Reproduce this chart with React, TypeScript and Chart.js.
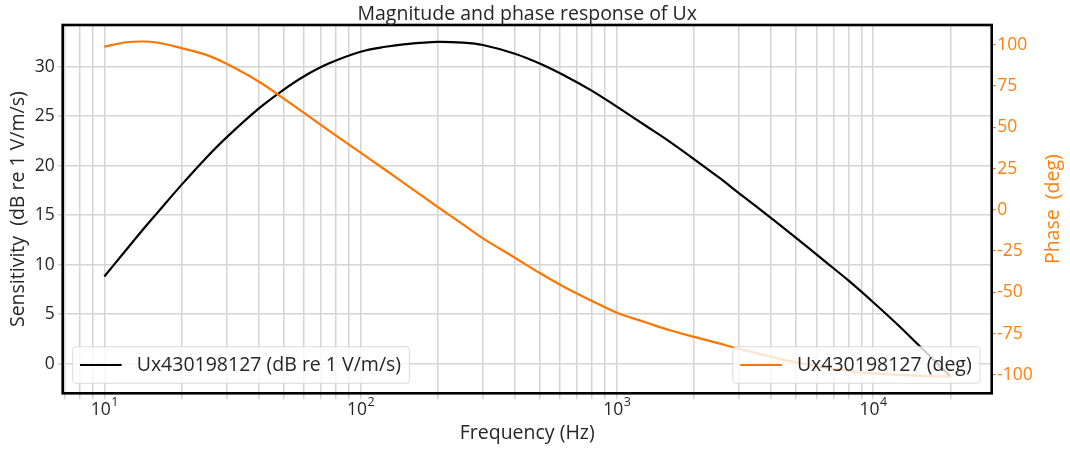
import React, { useEffect, useRef } from 'react';
import { Chart, registerables } from 'chart.js';

Chart.register(...registerables);

// ---- data ----
const FREQ_HZ = [10, 12, 14, 16, 20, 25, 30, 40, 50, 60, 75, 100, 125, 150, 200, 250, 300, 400, 500, 650, 800, 1000, 1300, 1600, 2000, 2500, 3000, 4000, 5000, 6500, 8000, 10000, 12500, 15000, 17500, 20000];
const MAG_DB = [8.8, 11.3, 13.4, 15.15, 18.05, 20.8, 22.85, 25.75, 27.65, 29.0, 30.3, 31.5, 32.0, 32.27, 32.5, 32.42, 32.18, 31.3, 30.3, 28.85, 27.55, 25.95, 24.0, 22.45, 20.65, 18.8, 17.2, 14.7, 12.7, 10.3, 8.4, 6.2, 3.9, 1.9, 0.2, -1.3];
const PHASE_DEG = [98.8, 101.3, 101.9, 101.3, 97.9, 93.8, 88.4, 77.7, 67.5, 58.8, 48.1, 34.6, 24.1, 15.4, 1.7, -8.7, -17.3, -29.0, -38.3, -48.3, -55.2, -62.3, -68.2, -72.8, -76.9, -80.9, -84.2, -89.0, -92.4, -95.6, -97.5, -99.0, -99.9, -100.5, -100.8, -101.0];

const X_GRID_VALUES = [7, 8, 9, 10, 20, 30, 40, 50, 60, 70, 80, 90, 100, 200, 300, 400, 500, 600, 700, 800, 900, 1000, 2000, 3000, 4000, 5000, 6000, 7000, 8000, 9000, 10000, 20000];
const X_LABEL_VALUES = [10, 100, 1000, 10000];
const X_LABEL_BASE = '10';
const X_LABEL_EXPONENTS = ['1', '2', '3', '4'];
const LEFT_TICKS = [0, 5, 10, 15, 20, 25, 30];
const RIGHT_TICKS = [-100, -75, -50, -25, 0, 25, 50, 75, 100];

const TITLE = 'Magnitude and phase response of Ux';
const X_TITLE = 'Frequency (Hz)';
const LEFT_TITLE = 'Sensitivity  (dB re 1 V/m/s)';
const RIGHT_TITLE = 'Phase  (deg)';
const SERIES_LABELS = ['Ux430198127 (dB re 1 V/m/s)', 'Ux430198127 (deg)'];

// ---- style ----
const W = 1070;
const H = 450;
const FONT_FAMILY = '"Open Sans", "DejaVu Sans", sans-serif';
const FS_TICK = 17.5;
const FS_LABEL = 19.5;
const FS_LEGEND = 19.5;
const TEXT = '#262626';
const ORANGE = '#ff7f0e';
const ORANGE_LINE = '#ff7500';
const GRID = '#d4d4d4';
const AREA = { left: 62.7, right: 991.7, top: 25, bottom: 393.3 };

function roundRect(ctx: CanvasRenderingContext2D, x: number, y: number, w: number, h: number, r: number) {
  ctx.beginPath();
  ctx.moveTo(x + r, y);
  ctx.lineTo(x + w - r, y);
  ctx.arcTo(x + w, y, x + w, y + r, r);
  ctx.lineTo(x + w, y + h - r);
  ctx.arcTo(x + w, y + h, x + w - r, y + h, r);
  ctx.lineTo(x + r, y + h);
  ctx.arcTo(x, y + h, x, y + h - r, r);
  ctx.lineTo(x, y + r);
  ctx.arcTo(x, y, x + r, y, r);
  ctx.closePath();
}

function drawLegend(ctx: CanvasRenderingContext2D, anchorX: number, alignRight: boolean, color: string, label: string) {
  ctx.save();
  ctx.font = `${FS_LEGEND}px ${FONT_FAMILY}`;
  const tw = ctx.measureText(label).width;
  const w = 64 + tw + 8.3;
  const h = 36.6;
  const x = alignRight ? anchorX - w : anchorX;
  const y = 346.7;
  roundRect(ctx, x, y, w, h, 3);
  ctx.fillStyle = 'rgba(255,255,255,0.8)';
  ctx.fill();
  ctx.strokeStyle = 'rgba(210,210,210,0.8)';
  ctx.lineWidth = 1;
  ctx.stroke();
  const cy = y + h / 2;
  ctx.beginPath();
  ctx.moveTo(x + 7.3, cy);
  ctx.lineTo(x + 49, cy);
  ctx.strokeStyle = color;
  ctx.lineWidth = 2.2;
  ctx.stroke();
  ctx.fillStyle = TEXT;
  ctx.textBaseline = 'middle';
  ctx.textAlign = 'left';
  ctx.fillText(label, x + 64, cy + 0.5);
  ctx.restore();
}

const overlayPlugin = {
  id: 'overlay',
  afterDraw(chart: any) {
    const ctx: CanvasRenderingContext2D = chart.ctx;
    const a = chart.chartArea;
    const xs = chart.scales.x;

    // legends
    drawLegend(ctx, 72.7, false, '#000000', SERIES_LABELS[0]);
    drawLegend(ctx, 980, true, ORANGE_LINE, SERIES_LABELS[1]);

    // frame
    ctx.save();
    ctx.strokeStyle = '#000000';
    ctx.lineWidth = 2.6;
    ctx.strokeRect(a.left, a.top, a.right - a.left, a.bottom - a.top);
    ctx.restore();

    // title
    ctx.save();
    ctx.fillStyle = TEXT;
    ctx.font = `${FS_LABEL}px ${FONT_FAMILY}`;
    ctx.textAlign = 'center';
    ctx.textBaseline = 'alphabetic';
    ctx.fillText(TITLE, (a.left + a.right) / 2, 20);
    ctx.restore();

    // x tick labels with superscript exponents
    ctx.save();
    ctx.fillStyle = TEXT;
    ctx.textBaseline = 'alphabetic';
    ctx.textAlign = 'left';
    X_LABEL_VALUES.forEach((v, i) => {
      const px = xs.getPixelForValue(v);
      ctx.font = `${FS_TICK}px ${FONT_FAMILY}`;
      const bw = ctx.measureText(X_LABEL_BASE).width;
      ctx.font = `${FS_TICK - 5}px ${FONT_FAMILY}`;
      const ew = ctx.measureText(X_LABEL_EXPONENTS[i]).width;
      const x0 = px - (bw + ew) / 2;
      ctx.font = `${FS_TICK}px ${FONT_FAMILY}`;
      ctx.fillText(X_LABEL_BASE, x0, 415);
      ctx.font = `${FS_TICK - 5}px ${FONT_FAMILY}`;
      ctx.fillText(X_LABEL_EXPONENTS[i], x0 + bw + 0.5, 406);
    });
    ctx.restore();

    // right axis title (rotated bottom-to-top like the left one)
    ctx.save();
    ctx.fillStyle = ORANGE;
    ctx.font = `${FS_LABEL}px ${FONT_FAMILY}`;
    ctx.textAlign = 'center';
    ctx.textBaseline = 'middle';
    ctx.translate(1053, (a.top + a.bottom) / 2);
    ctx.rotate(-Math.PI / 2);
    ctx.fillText(RIGHT_TITLE, 0, 0);
    ctx.restore();
  },
};

export default function App() {
  const ref = useRef<HTMLCanvasElement | null>(null);

  useEffect(() => {
    if (!ref.current) return;
    const tickFont = { family: FONT_FAMILY, size: FS_TICK };
    const labelFont = { family: FONT_FAMILY, size: FS_LABEL };
    const magData = FREQ_HZ.map((f, i) => ({ x: f, y: MAG_DB[i] }));
    const phaseData = FREQ_HZ.map((f, i) => ({ x: f, y: PHASE_DEG[i] }));

    const chart = new Chart(ref.current, {
      type: 'line',
      data: {
        datasets: [
          {
            label: SERIES_LABELS[0],
            data: magData,
            borderColor: '#000000',
            borderWidth: 2.2,
            pointRadius: 0,
            tension: 0.35,
            yAxisID: 'y',
            order: 1,
          },
          {
            label: SERIES_LABELS[1],
            data: phaseData,
            borderColor: ORANGE_LINE,
            borderWidth: 2.2,
            pointRadius: 0,
            tension: 0.35,
            yAxisID: 'y1',
            order: 0,
          },
        ],
      },
      options: {
        responsive: false,
        animation: false,
        events: [],
        layout: { padding: { top: AREA.top, left: 0, right: 0, bottom: 0 } },
        plugins: {
          legend: { display: false },
          title: { display: false },
          tooltip: { enabled: false },
        },
        scales: {
          x: {
            type: 'logarithmic',
            min: 6.88,
            max: 29000,
            afterBuildTicks: (s: any) => {
              s.ticks = X_GRID_VALUES.map((v) => ({ value: v }));
            },
            afterFit: (s: any) => {
              s.height = H - AREA.bottom;
            },
            grid: { color: GRID, lineWidth: 1.5, tickLength: 6, drawTicks: true },
            border: { display: false },
            ticks: { display: false },
            title: {
              display: true,
              text: X_TITLE,
              color: TEXT,
              font: labelFont,
              padding: { top: 0, bottom: 5.3 },
            },
          },
          y: {
            type: 'linear',
            position: 'left',
            min: -3.0,
            max: 34.2,
            afterBuildTicks: (s: any) => {
              s.ticks = LEFT_TICKS.map((v) => ({ value: v }));
            },
            afterFit: (s: any) => {
              s.width = AREA.left;
            },
            grid: { color: GRID, lineWidth: 1.5, tickLength: 5 },
            border: { display: false },
            ticks: { color: TEXT, font: tickFont, padding: 3 },
            title: {
              display: true,
              text: LEFT_TITLE,
              color: TEXT,
              font: labelFont,
              padding: { top: 6.3, bottom: 0 },
            },
          },
          y1: {
            type: 'linear',
            position: 'right',
            min: -111.1,
            max: 111.9,
            afterBuildTicks: (s: any) => {
              s.ticks = RIGHT_TICKS.map((v) => ({ value: v }));
            },
            afterFit: (s: any) => {
              s.width = W - AREA.right;
            },
            grid: { drawOnChartArea: false, color: ORANGE, lineWidth: 1.2, tickLength: 4 },
            border: { display: false },
            ticks: { color: ORANGE, font: tickFont, padding: 1.5 },
          },
        },
      },
      plugins: [overlayPlugin],
    } as any);

    return () => chart.destroy();
  }, []);

  return (
    <div style={{ position: 'fixed', left: 0, top: 0, width: W, height: H, background: '#ffffff' }}>
      <canvas ref={ref} width={W} height={H} style={{ width: W, height: H, display: 'block' }} />
    </div>
  );
}
